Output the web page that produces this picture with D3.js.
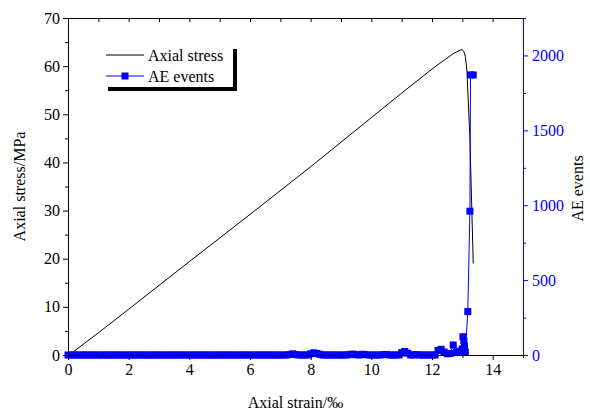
<!DOCTYPE html>
<html>
<head>
<meta charset="utf-8">
<script src="https://cdn.jsdelivr.net/npm/d3@7"></script>
<style>
  body { margin: 0; background: white; }
  text { font-family: "Liberation Serif", "Times New Roman", serif; }
</style>
</head>
<body>
<div id="chart"></div>
<script>
// stress-strain curve (strain in per mille, stress in MPa)
var stressStrain = [0, 0.1, 1, 2, 4, 6, 8, 10, 11, 12, 12.7, 12.95, 13.0, 13.05, 13.1, 13.15, 13.25, 13.36];
var stressValues = [0, 0.3, 4.6, 9.5, 19.4, 29.2, 39.1, 49.3, 54.4, 59.4, 62.6, 63.4, 63.4, 63.0, 62.0, 59.2, 45, 19];

// AE events
var aeStrain = [
  0.0, 0.1, 0.2, 0.3, 0.4, 0.5, 0.6, 0.7, 0.8, 0.9, 1.0, 1.1, 1.2, 1.3, 1.4, 1.5, 1.6, 1.7, 1.8, 1.9,
  2.0, 2.1, 2.2, 2.3, 2.4, 2.5, 2.6, 2.7, 2.8, 2.9, 3.0, 3.1, 3.2, 3.3, 3.4, 3.5, 3.6, 3.7, 3.8, 3.9,
  4.0, 4.1, 4.2, 4.3, 4.4, 4.5, 4.6, 4.7, 4.8, 4.9, 5.0, 5.1, 5.2, 5.3, 5.4, 5.5, 5.6, 5.7, 5.8, 5.9,
  6.0, 6.1, 6.2, 6.3, 6.4, 6.5, 6.6, 6.7, 6.8, 6.9, 7.0, 7.1, 7.2, 7.3, 7.4, 7.5, 7.6, 7.7, 7.8, 7.9,
  8.0, 8.1, 8.2, 8.3, 8.4, 8.5, 8.6, 8.7, 8.8, 8.9, 9.0, 9.1, 9.2, 9.3, 9.4, 9.5, 9.6, 9.7, 9.8, 9.9,
  10.0, 10.1, 10.2, 10.3, 10.4, 10.5, 10.6, 10.7, 10.8, 10.9, 11.0, 11.1, 11.2, 11.3, 11.4, 11.5, 11.6, 11.7, 11.8, 11.9,
  12.0, 12.1, 12.2, 12.3, 12.4, 12.5, 12.6, 12.7, 12.8, 12.9, 13.0, 13.02, 13.05, 13.07, 13.1, 13.18, 13.25, 13.27, 13.36
];
var aeEvents = [
  0, 0, 0, 0, 0, 0, 0, 0, 0, 0, 0, 0, 0, 0, 0, 0, 0, 0, 0, 0,
  0, 0, 0, 0, 0, 0, 0, 0, 0, 0, 0, 0, 0, 0, 0, 0, 0, 0, 0, 0,
  0, 0, 0, 0, 0, 0, 0, 0, 0, 0, 0, 0, 0, 0, 0, 0, 0, 0, 0, 0,
  0, 0, 0, 0, 0, 0, 0, 0, 0, 0, 0, 0, 0, 3, 8, 3, 0, 0, 0, 0,
  8, 15, 10, 5, 0, 0, 0, 0, 0, 0, 0, 0, 0, 4, 6, 2, 0, 5, 3, 0,
  0, 0, 0, 0, 3, 4, 0, 0, 0, 0, 15, 24, 12, 0, 0, 3, 0, 0, 0, 0,
  0, 0, 30, 38, 20, 8, 10, 67, 20, 25, 40, 122, 95, 60, 20, 290, 960, 1870, 1870
];

var xTicks = [0, 2, 4, 6, 8, 10, 12, 14];
var yTicks = [0, 10, 20, 30, 40, 50, 60, 70];
var y2Ticks = [0, 500, 1000, 1500, 2000];

var W = 590, H = 412;
var margin = {top: 18, right: 67, bottom: 57, left: 68};
var width = W - margin.left - margin.right,
    height = H - margin.top - margin.bottom;

var svg = d3.select("#chart").append("svg")
    .attr("width", W).attr("height", H);
var g = svg.append("g")
    .attr("transform", "translate(" + margin.left + "," + margin.top + ")");

var x = d3.scaleLinear().domain([0, 15]).range([0, width]);
var y = d3.scaleLinear().domain([0, 70]).range([height, 0]);
var y2 = d3.scaleLinear().domain([0, 2250]).range([height, 0]);

var blue = "#0000ff";
var serif = "Liberation Serif";

// stress line
var stressData = stressStrain.map(function(s, i) { return [s, stressValues[i]]; });
g.append("path")
    .datum(stressData)
    .attr("fill", "none")
    .attr("stroke", "black")
    .attr("stroke-width", 1)
    .attr("d", d3.line().x(function(d) { return x(d[0]); }).y(function(d) { return y(d[1]); }));

// AE line + markers
var aeData = aeStrain.map(function(s, i) { return [s, aeEvents[i]]; });
g.append("path")
    .datum(aeData)
    .attr("fill", "none")
    .attr("stroke", blue)
    .attr("stroke-width", 1)
    .attr("d", d3.line().x(function(d) { return x(d[0]); }).y(function(d) { return y2(d[1]); }));

var ms = 7;
g.selectAll("rect.ae")
    .data(aeData)
    .enter().append("rect")
    .attr("class", "ae")
    .attr("x", function(d) { return x(d[0]) - ms / 2; })
    .attr("y", function(d) { return y2(d[1]) - ms / 2; })
    .attr("width", ms).attr("height", ms)
    .attr("fill", blue);

// axes
function styleAxis(sel, color) {
  sel.attr("font-family", serif).attr("font-size", 16);
  sel.selectAll("path").attr("stroke", color).attr("stroke-width", 1);
  sel.selectAll("line").attr("stroke", color);
  sel.selectAll("text").attr("fill", color);
}
var fmt = d3.format("d");

// bottom: minor ticks
g.append("g").attr("transform", "translate(0," + height + ")")
    .call(d3.axisBottom(x).tickValues(d3.range(1, 16, 2)).tickSize(3).tickFormat(""))
    .call(function(s) { styleAxis(s, "black"); s.select(".domain").remove(); });
g.append("g").attr("transform", "translate(0," + height + ")")
    .call(d3.axisBottom(x).tickValues(xTicks).tickSize(5).tickSizeOuter(0).tickPadding(4).tickFormat(fmt))
    .call(function(s) { styleAxis(s, "black"); });

// top axis ticks pointing inward
g.append("g")
    .call(d3.axisBottom(x).tickValues(d3.range(0, 16, 1)).tickSize(4).tickSizeOuter(0).tickFormat(""))
    .call(function(s) { styleAxis(s, "black"); });

// left
g.append("g")
    .call(d3.axisLeft(y).tickValues(d3.range(5, 70, 10)).tickSize(3).tickFormat(""))
    .call(function(s) { styleAxis(s, "black"); s.select(".domain").remove(); });
g.append("g")
    .call(d3.axisLeft(y).tickValues(yTicks).tickSize(5).tickSizeOuter(0).tickPadding(3).tickFormat(fmt))
    .call(function(s) { styleAxis(s, "black"); });

// right (blue)
g.append("g").attr("transform", "translate(" + width + ",0)")
    .call(d3.axisRight(y2).tickValues(d3.range(250, 2500, 500)).tickSize(3).tickFormat(""))
    .call(function(s) { styleAxis(s, blue); s.select(".domain").remove(); });
g.append("g").attr("transform", "translate(" + width + ",0)")
    .call(d3.axisRight(y2).tickValues(y2Ticks).tickSize(5).tickSizeOuter(0).tickPadding(4).tickFormat(fmt))
    .call(function(s) { styleAxis(s, blue); });

// axis titles
svg.append("text")
    .attr("x", margin.left + width / 2).attr("y", 408)
    .attr("text-anchor", "middle").attr("font-family", serif).attr("font-size", 16)
    .text("Axial strain/‰");
svg.append("text")
    .attr("transform", "translate(25," + (margin.top + height / 2) + ") rotate(-90)")
    .attr("text-anchor", "middle").attr("font-family", serif).attr("font-size", 16)
    .text("Axial stress/MPa");
svg.append("text")
    .attr("transform", "translate(583," + (margin.top + height / 2 + 2) + ") rotate(-90)")
    .attr("text-anchor", "middle").attr("font-family", serif).attr("font-size", 16)
    .text("AE events");

// legend with drop shadow
var lg = svg.append("g").attr("transform", "translate(104,45)");
lg.append("rect").attr("x", 4).attr("y", 4).attr("width", 129).attr("height", 42).attr("fill", "black");
lg.append("rect").attr("x", 0).attr("y", 0).attr("width", 129).attr("height", 42).attr("fill", "white");
var legendItems = [
  {label: "Axial stress", color: "black", marker: false},
  {label: "AE events", color: blue, marker: true}
];
legendItems.forEach(function(it, i) {
  var yy = 10 + i * 21;
  lg.append("line").attr("x1", 2).attr("x2", 40).attr("y1", yy).attr("y2", yy)
    .attr("stroke", it.color).attr("stroke-width", 1);
  if (it.marker) {
    lg.append("rect").attr("x", 21 - ms / 2).attr("y", yy - ms / 2)
      .attr("width", ms).attr("height", ms).attr("fill", blue);
  }
  lg.append("text").attr("x", 44).attr("y", yy + 5.5)
    .attr("font-family", serif).attr("font-size", 16).text(it.label);
});
</script>
</body>
</html>
